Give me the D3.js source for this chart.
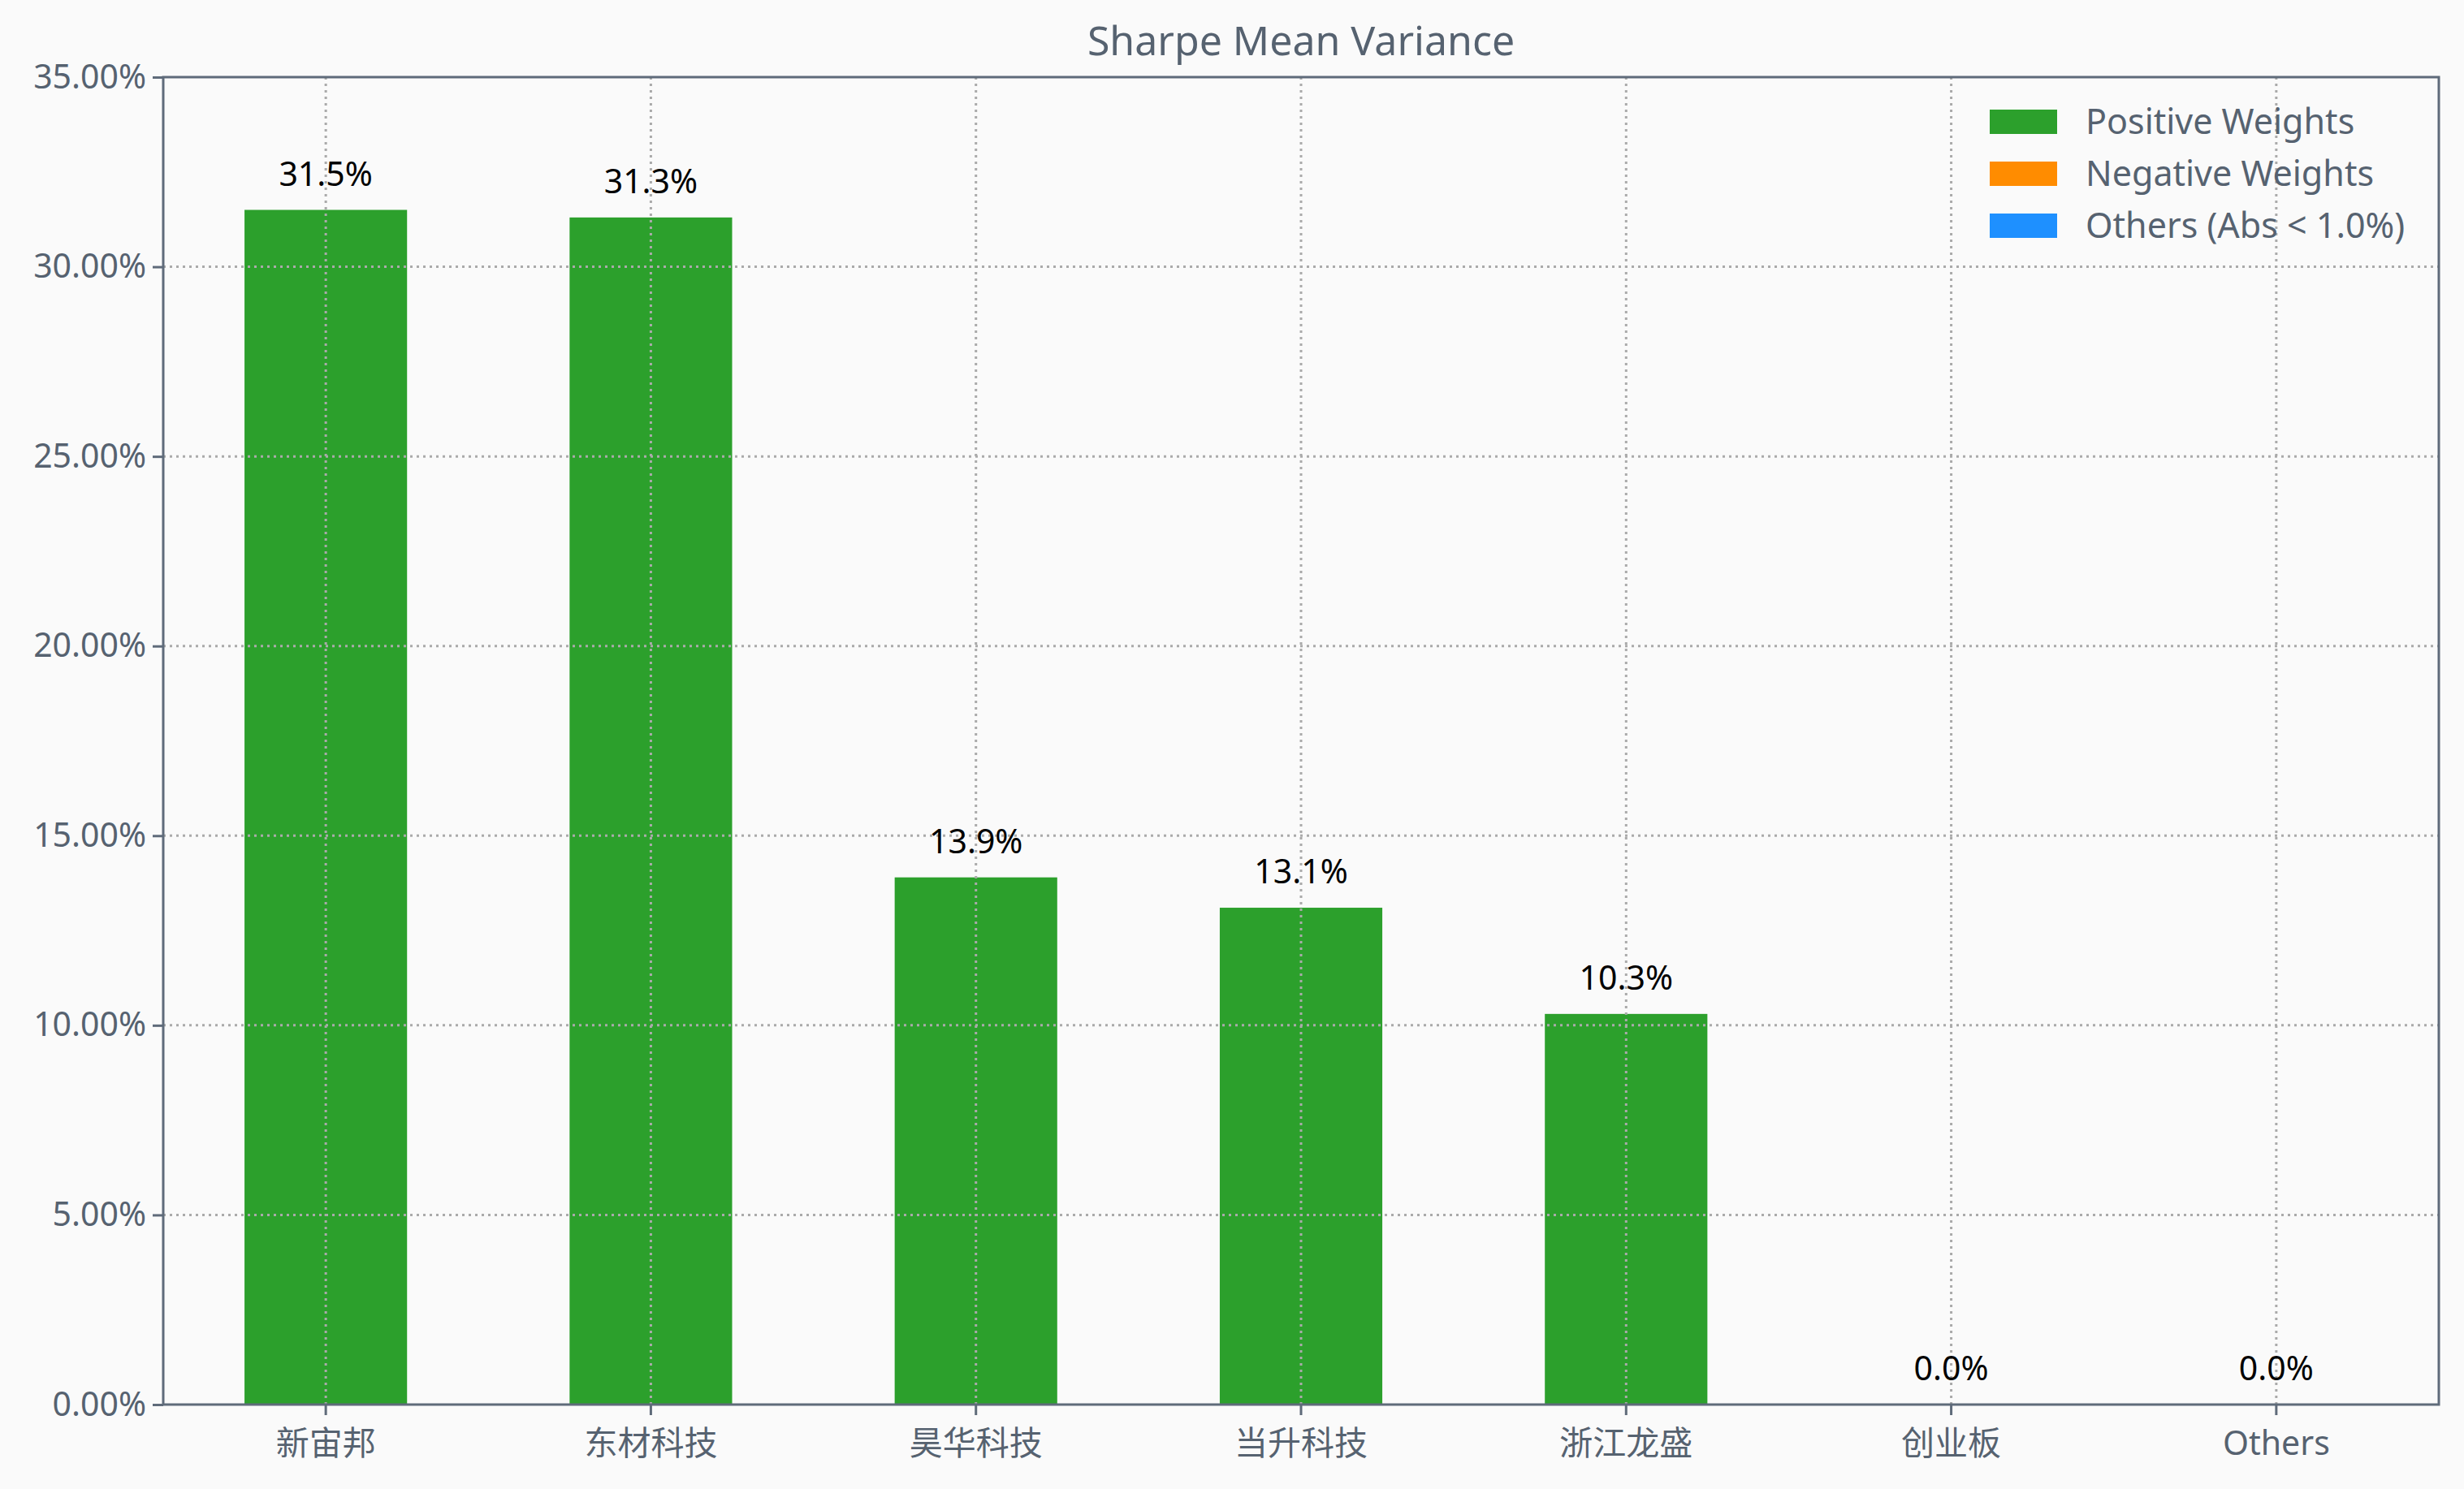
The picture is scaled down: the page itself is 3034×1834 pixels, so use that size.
<!DOCTYPE html>
<html>
<head>
<meta charset="utf-8">
<script src="https://cdn.jsdelivr.net/npm/d3@7"></script>
<style>
  html, body { margin: 0; padding: 0; background: #fafafa; }
  svg { display: block; font-family: "Noto Sans", "Noto Sans CJK SC", sans-serif; }
</style>
</head>
<body>
<div id="root"></div>
<script>
const width = 3034;
const height = 1834;

// data
const categories = ["新宙邦", "东材科技", "昊华科技", "当升科技", "浙江龙盛", "创业板", "Others"];
const weights = [31.5, 31.3, 13.9, 13.1, 10.3, 0.0, 0.0];
const yTicks = [0, 5, 10, 15, 20, 25, 30, 35];
const legendLabels = ["Positive Weights", "Negative Weights", "Others (Abs < 1.0%)"];
const legendColors = ["#2ca02c", "#ff8c00", "#1e90ff"];

const margin = { top: 95, right: 31, bottom: 104, left: 201 };
const axisColor = "#5f6b7a";
const textColor = "#566270";

const svg = d3.select("#root")
	.append("svg")
		.attr("width", width)
		.attr("height", height);

svg.append("rect")
	.attr("width", width)
	.attr("height", height)
	.attr("fill", "#fafafa");

const x = d3.scaleBand()
	.domain(categories)
	.range([margin.left, width - margin.right])
	.paddingInner(0.5)
	.paddingOuter(0.25);

const y = d3.scaleLinear()
	.domain([0, 35])
	.range([height - margin.bottom, margin.top]);

// grid lines
const grid = svg.append("g").attr("class", "grid");
grid.selectAll(".hgrid")
	.data(yTicks.slice(1, -1)).enter()
	.append("line")
		.attr("x1", margin.left)
		.attr("x2", width - margin.right)
		.attr("y1", d => y(d))
		.attr("y2", d => y(d))
		.style("stroke", "#aaaaaa")
		.style("stroke-width", 3)
		.style("stroke-dasharray", "3,5");
grid.selectAll(".vgrid")
	.data(categories).enter()
	.append("line")
		.attr("x1", d => x(d) + x.bandwidth() / 2)
		.attr("x2", d => x(d) + x.bandwidth() / 2)
		.attr("y1", margin.top)
		.attr("y2", height - margin.bottom)
		.style("stroke", "#aaaaaa")
		.style("stroke-width", 3)
		.style("stroke-dasharray", "3,5");

// bars
const data = categories.map((c, i) => ({ name: c, value: weights[i] }));
svg.selectAll(".bar")
	.data(data).enter()
	.append("rect")
		.attr("class", "bar")
		.attr("x", d => x(d.name))
		.attr("y", d => y(d.value))
		.attr("width", x.bandwidth())
		.attr("height", d => y(0) - y(d.value))
		.style("fill", "#2ca02c");

// vertical gridlines drawn over bars as in the picture
grid.raise();

svg.selectAll(".label")
	.data(data).enter()
	.append("text")
		.attr("x", d => x(d.name) + x.bandwidth() / 2)
		.attr("y", d => y(d.value) - 30)
		.text(d => `${d.value.toFixed(1)}%`)
		.style("font-size", "41px")
		.style("fill", "#000")
		.style("text-anchor", "middle");

// axes
const yAxis = d3.axisLeft(y)
	.tickValues(yTicks)
	.tickSize(13)
	.tickPadding(8)
	.tickFormat(d => `${d.toFixed(2)}%`);
const gy = svg.append("g")
	.attr("transform", `translate(${margin.left},0)`)
	.call(yAxis);

const xAxis = d3.axisBottom(x)
	.tickSize(13)
	.tickPadding(20);
const gx = svg.append("g")
	.attr("transform", `translate(0,${height - margin.bottom})`)
	.call(xAxis);

[gx, gy].forEach(g => {
	g.select(".domain").remove();
	g.selectAll(".tick line").style("stroke", axisColor).style("stroke-width", 3);
	g.selectAll(".tick text")
		.style("fill", textColor)
		.style("font-size", "41px")
		.style("font-family", '"Noto Sans", "Noto Sans CJK SC", sans-serif');
});

// frame
svg.append("rect")
	.attr("x", margin.left)
	.attr("y", margin.top)
	.attr("width", width - margin.left - margin.right)
	.attr("height", height - margin.top - margin.bottom)
	.style("fill", "none")
	.style("stroke", axisColor)
	.style("stroke-width", 3);

// title
svg.append("text")
	.attr("x", (margin.left + width - margin.right) / 2)
	.attr("y", 68)
	.text("Sharpe Mean Variance")
	.style("font-size", "50px")
	.style("fill", textColor)
	.style("text-anchor", "middle");

// legend
const legend = svg.selectAll(".legend")
	.data(legendLabels).enter()
	.append("g")
		.attr("class", "legend")
		.attr("transform", (d, i) => `translate(2450, ${150 + i * 64})`);
legend.append("rect")
	.attr("x", 0)
	.attr("y", -15)
	.attr("width", 83)
	.attr("height", 30)
	.style("fill", (d, i) => legendColors[i]);
legend.append("text")
	.attr("x", 118)
	.attr("y", 0)
	.attr("dy", "0.35em")
	.text(d => d)
	.style("font-size", "43px")
	.style("fill", textColor);
</script>
</body>
</html>
